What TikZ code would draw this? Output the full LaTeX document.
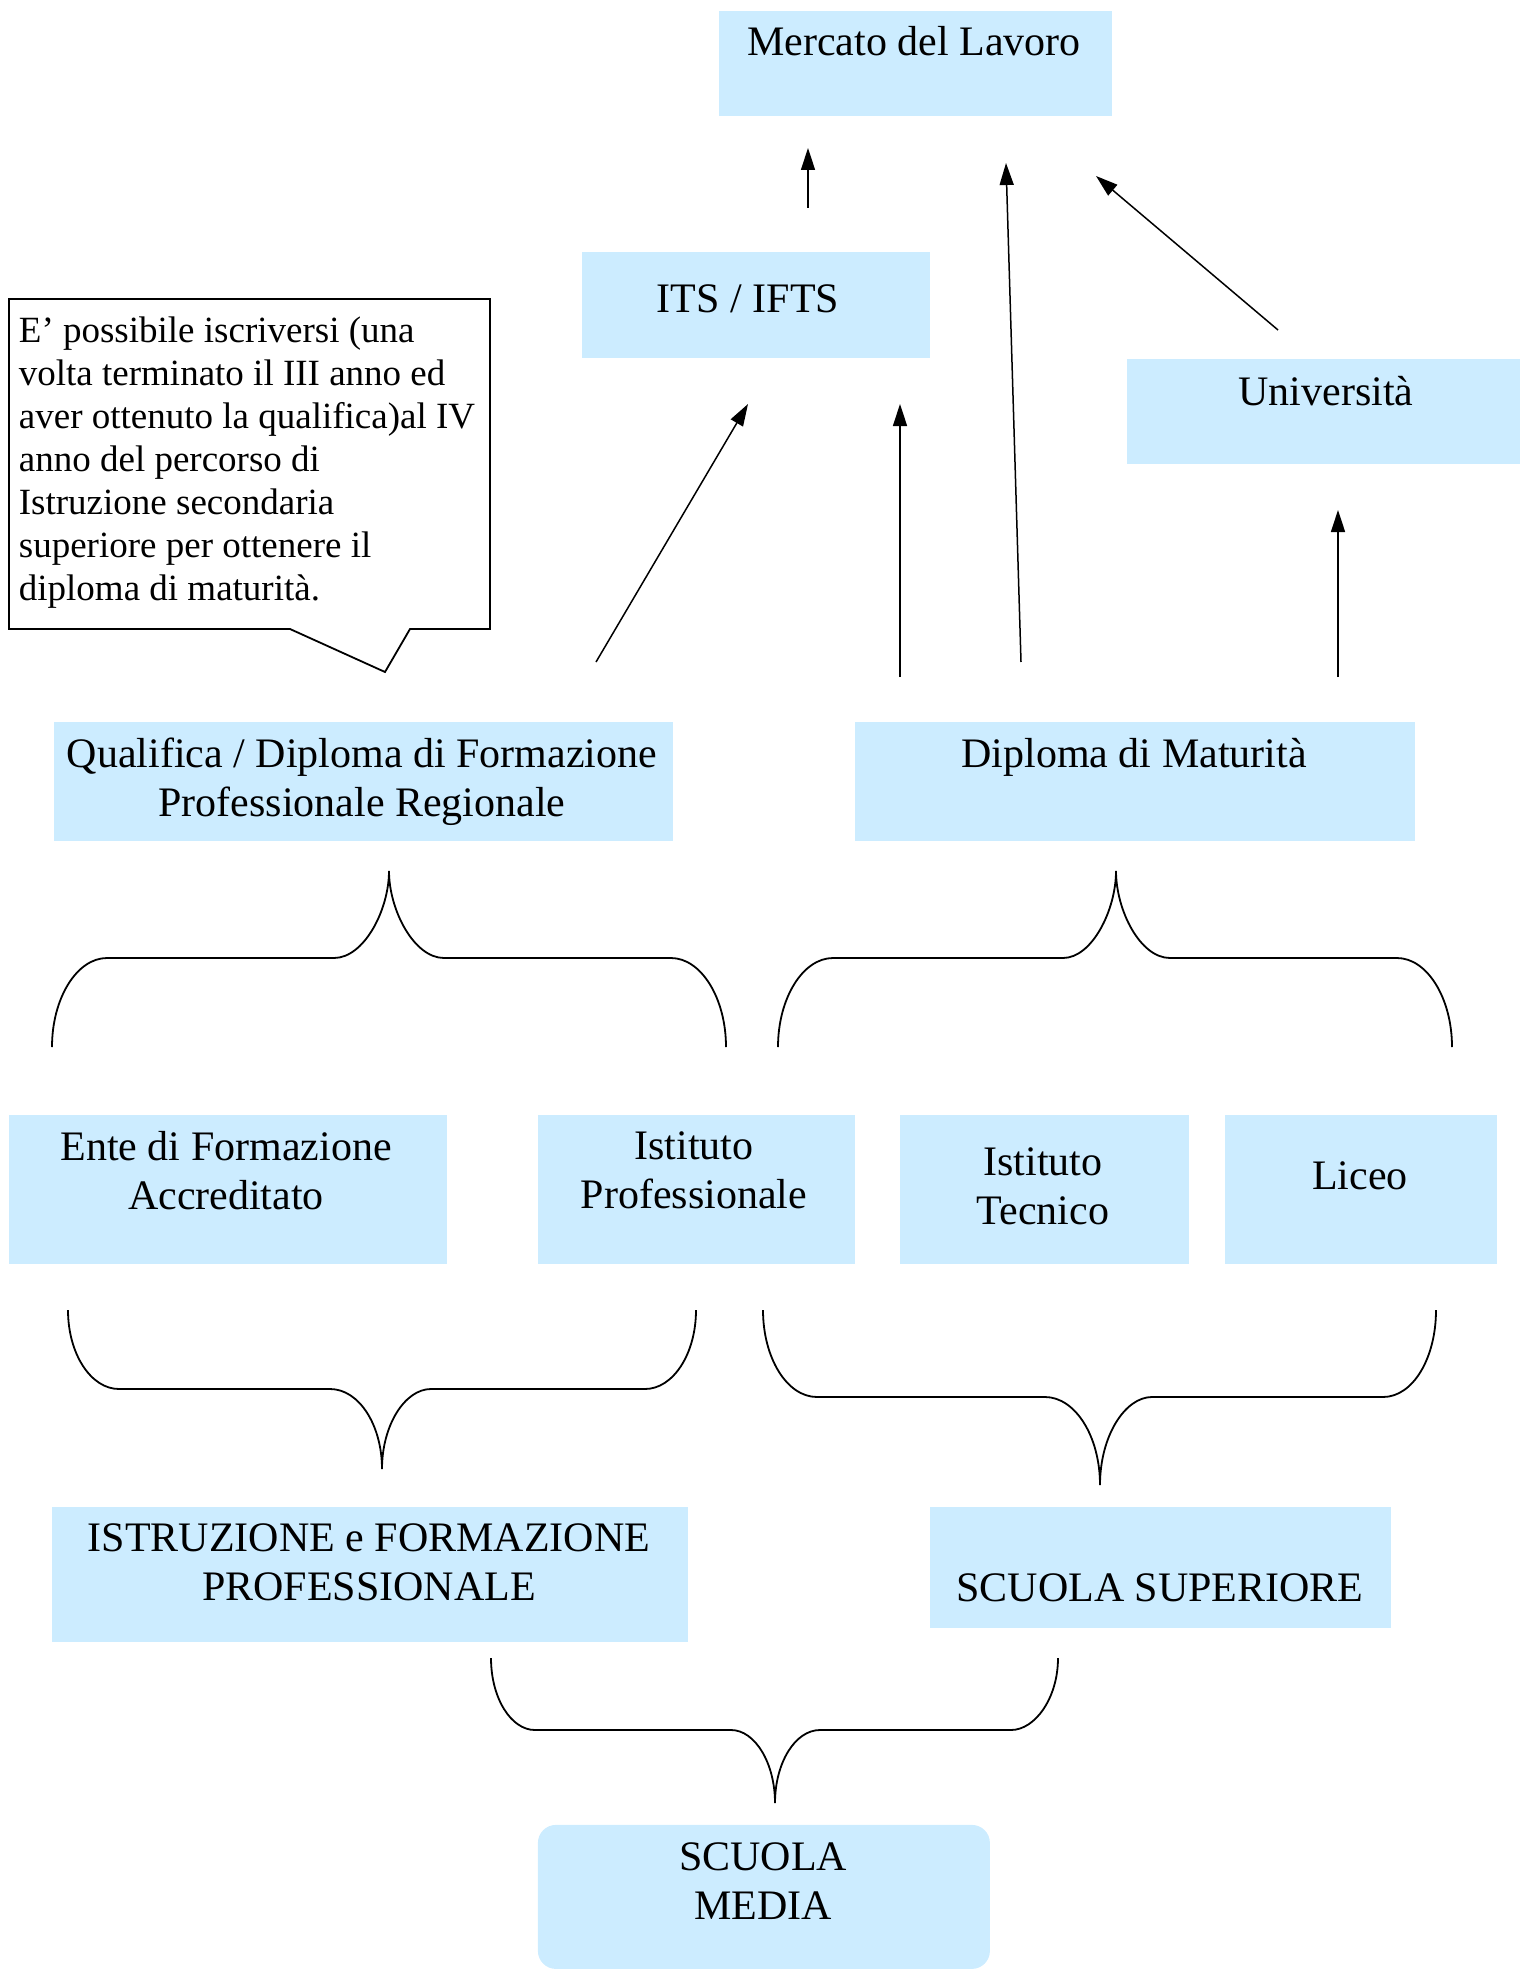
\documentclass[tikz,border=0pt]{standalone}
\usepackage{fontspec}
\setmainfont{Liberation Serif}
\usetikzlibrary{arrows.meta}

\definecolor{boxblue}{RGB}{204,236,255}
\tikzset{every picture/.style={line width=1.8pt}}
\tikzset{
  box/.style={fill=boxblue, draw=none, anchor=north west, inner sep=0pt},
  txt/.style={font=\fontsize{42}{49}\selectfont, align=center, inner sep=0pt, anchor=north},
  notetxt/.style={font=\fontsize{37}{43}\selectfont, align=left, inner sep=0pt, anchor=north west},
  arr/.style={line width=1.5pt, -{Triangle[length=22pt,width=14pt]}},
  curly/.style={line width=1.8pt}
}

\begin{document}
\begin{tikzpicture}[x=1pt,y=1pt,yscale=-1,xscale=1]
\useasboundingbox (0,0) rectangle (1519,1969);

%Boxes
\node[box, minimum width=393pt, minimum height=105pt] (mercato) at (718,10) {};
\node[box, minimum width=348pt, minimum height=106pt] (its) at (581,251) {};
\node[box, minimum width=393pt, minimum height=105pt] (univ) at (1126,358) {};
\node[box, minimum width=619pt, minimum height=119pt] (qualif) at (53,721) {};
\node[box, minimum width=560pt, minimum height=119pt] (diploma) at (854,721) {};
\node[box, minimum width=438pt, minimum height=149pt] (ente) at (8,1114) {};
\node[box, minimum width=317pt, minimum height=149pt] (ipro) at (537,1114) {};
\node[box, minimum width=289pt, minimum height=149pt] (itec) at (899,1114) {};
\node[box, minimum width=272pt, minimum height=149pt] (liceo) at (1224,1114) {};
\node[box, minimum width=636pt, minimum height=135pt] (iefp) at (51,1506) {};
\node[box, minimum width=461pt, minimum height=121pt] (ssup) at (929,1506) {};
\node[box, rounded corners=18pt, minimum width=452pt, minimum height=144pt] (smedia) at (537,1824) {};

%Callout
\draw[fill=white] (9,299) -- (490,299) -- (490,629) -- (410,629) -- (385,672) -- (290,629) -- (9,629) -- cycle;

% Text Node
\node[txt] (mercatotxt) at (914,25) {Mercato del Lavoro};
\node[txt] (itstxt) at (748,284) {ITS / IFTS};
\node[txt] (univtxt) at (1326,375) {Università};
\node[txt] (qualiftxt) at (362,737) {Qualifica / Diploma di Formazione\\Professionale Regionale};
\node[txt] (diplomatxt) at (1134,737) {Diploma di Maturità};
\node[txt] (entetxt) at (226,1130) {Ente di Formazione\\Accreditato};
\node[txt] (iprotxt) at (694,1131) {Istituto\\Professionale};
\node[txt] (itectxt) at (1043,1147) {Istituto\\Tecnico};
\node[txt] (liceotxt) at (1360,1161) {Liceo};
\node[txt] (iefptxt) at (369,1523) {ISTRUZIONE e FORMAZIONE\\PROFESSIONALE};
\node[txt] (ssuptxt) at (1160,1573) {SCUOLA SUPERIORE};
\node[txt] (smediatxt) at (763,1842) {SCUOLA\\MEDIA};
\node[notetxt] (note) at (18,316) {E’ possibile iscriversi (una\\volta terminato il III anno ed\\aver ottenuto la qualifica)al IV\\anno del percorso di\\Istruzione secondaria\\superiore per ottenere il\\diploma di maturità.};

%Arrow ends
\coordinate (itsOut) at (808,208);
\coordinate (mercatoInA) at (808,148);
\coordinate (diplomaOutA) at (1021,662);
\coordinate (mercatoInB) at (1006,163);
\coordinate (univOut) at (1278,330);
\coordinate (mercatoInC) at (1096,176);
\coordinate (qualifOut) at (596,662);
\coordinate (itsInA) at (748,404);
\coordinate (diplomaOutB) at (900,677);
\coordinate (itsInB) at (900,404);
\coordinate (diplomaOutC) at (1338,677);
\coordinate (univIn) at (1338,510);

%Straight Lines
\draw[arr] (itsOut) -- (mercatoInA);
\draw[arr] (diplomaOutA) -- (mercatoInB);
\draw[arr] (univOut) -- (mercatoInC);
\draw[arr] (qualifOut) -- (itsInA);
\draw[arr] (diplomaOutB) -- (itsInB);
\draw[arr] (diplomaOutC) -- (univIn);

%Shape: Brace
\draw[curly] (52,1047) .. controls (52,998) and (77,958) .. (107,958) -- (334,958) .. controls (364,958) and (389,910) .. (389,871) .. controls (389,910) and (414,958) .. (444,958) -- (671,958) .. controls (701,958) and (726,998) .. (726,1047);
%Shape: Brace
\draw[curly] (778,1047) .. controls (778,998) and (803,958) .. (833,958) -- (1063,958) .. controls (1092,958) and (1116,910) .. (1116,871) .. controls (1116,910) and (1140,958) .. (1170,958) -- (1397,958) .. controls (1427,958) and (1452,998) .. (1452,1047);
%Shape: Brace
\draw[curly] (68,1310) .. controls (68,1354) and (91,1389) .. (119,1389) -- (330,1389) .. controls (359,1389) and (382,1425) .. (382,1469) .. controls (382,1425) and (405,1389) .. (431,1389) -- (645,1389) .. controls (673,1389) and (696,1354) .. (696,1310);
%Shape: Brace
\draw[curly] (763,1310) .. controls (763,1358) and (787,1397) .. (817,1397) -- (1045,1397) .. controls (1075,1397) and (1100,1436) .. (1100,1485) .. controls (1100,1436) and (1125,1397) .. (1152,1397) -- (1383,1397) .. controls (1413,1397) and (1436,1358) .. (1436,1310);
%Shape: Brace
\draw[curly] (491,1658) .. controls (491,1698) and (511,1730) .. (535,1730) -- (731,1730) .. controls (755,1730) and (775,1763) .. (775,1803) .. controls (775,1763) and (795,1730) .. (820,1730) -- (1011,1730) .. controls (1035,1730) and (1058,1698) .. (1058,1658);

\end{tikzpicture}
\end{document}
